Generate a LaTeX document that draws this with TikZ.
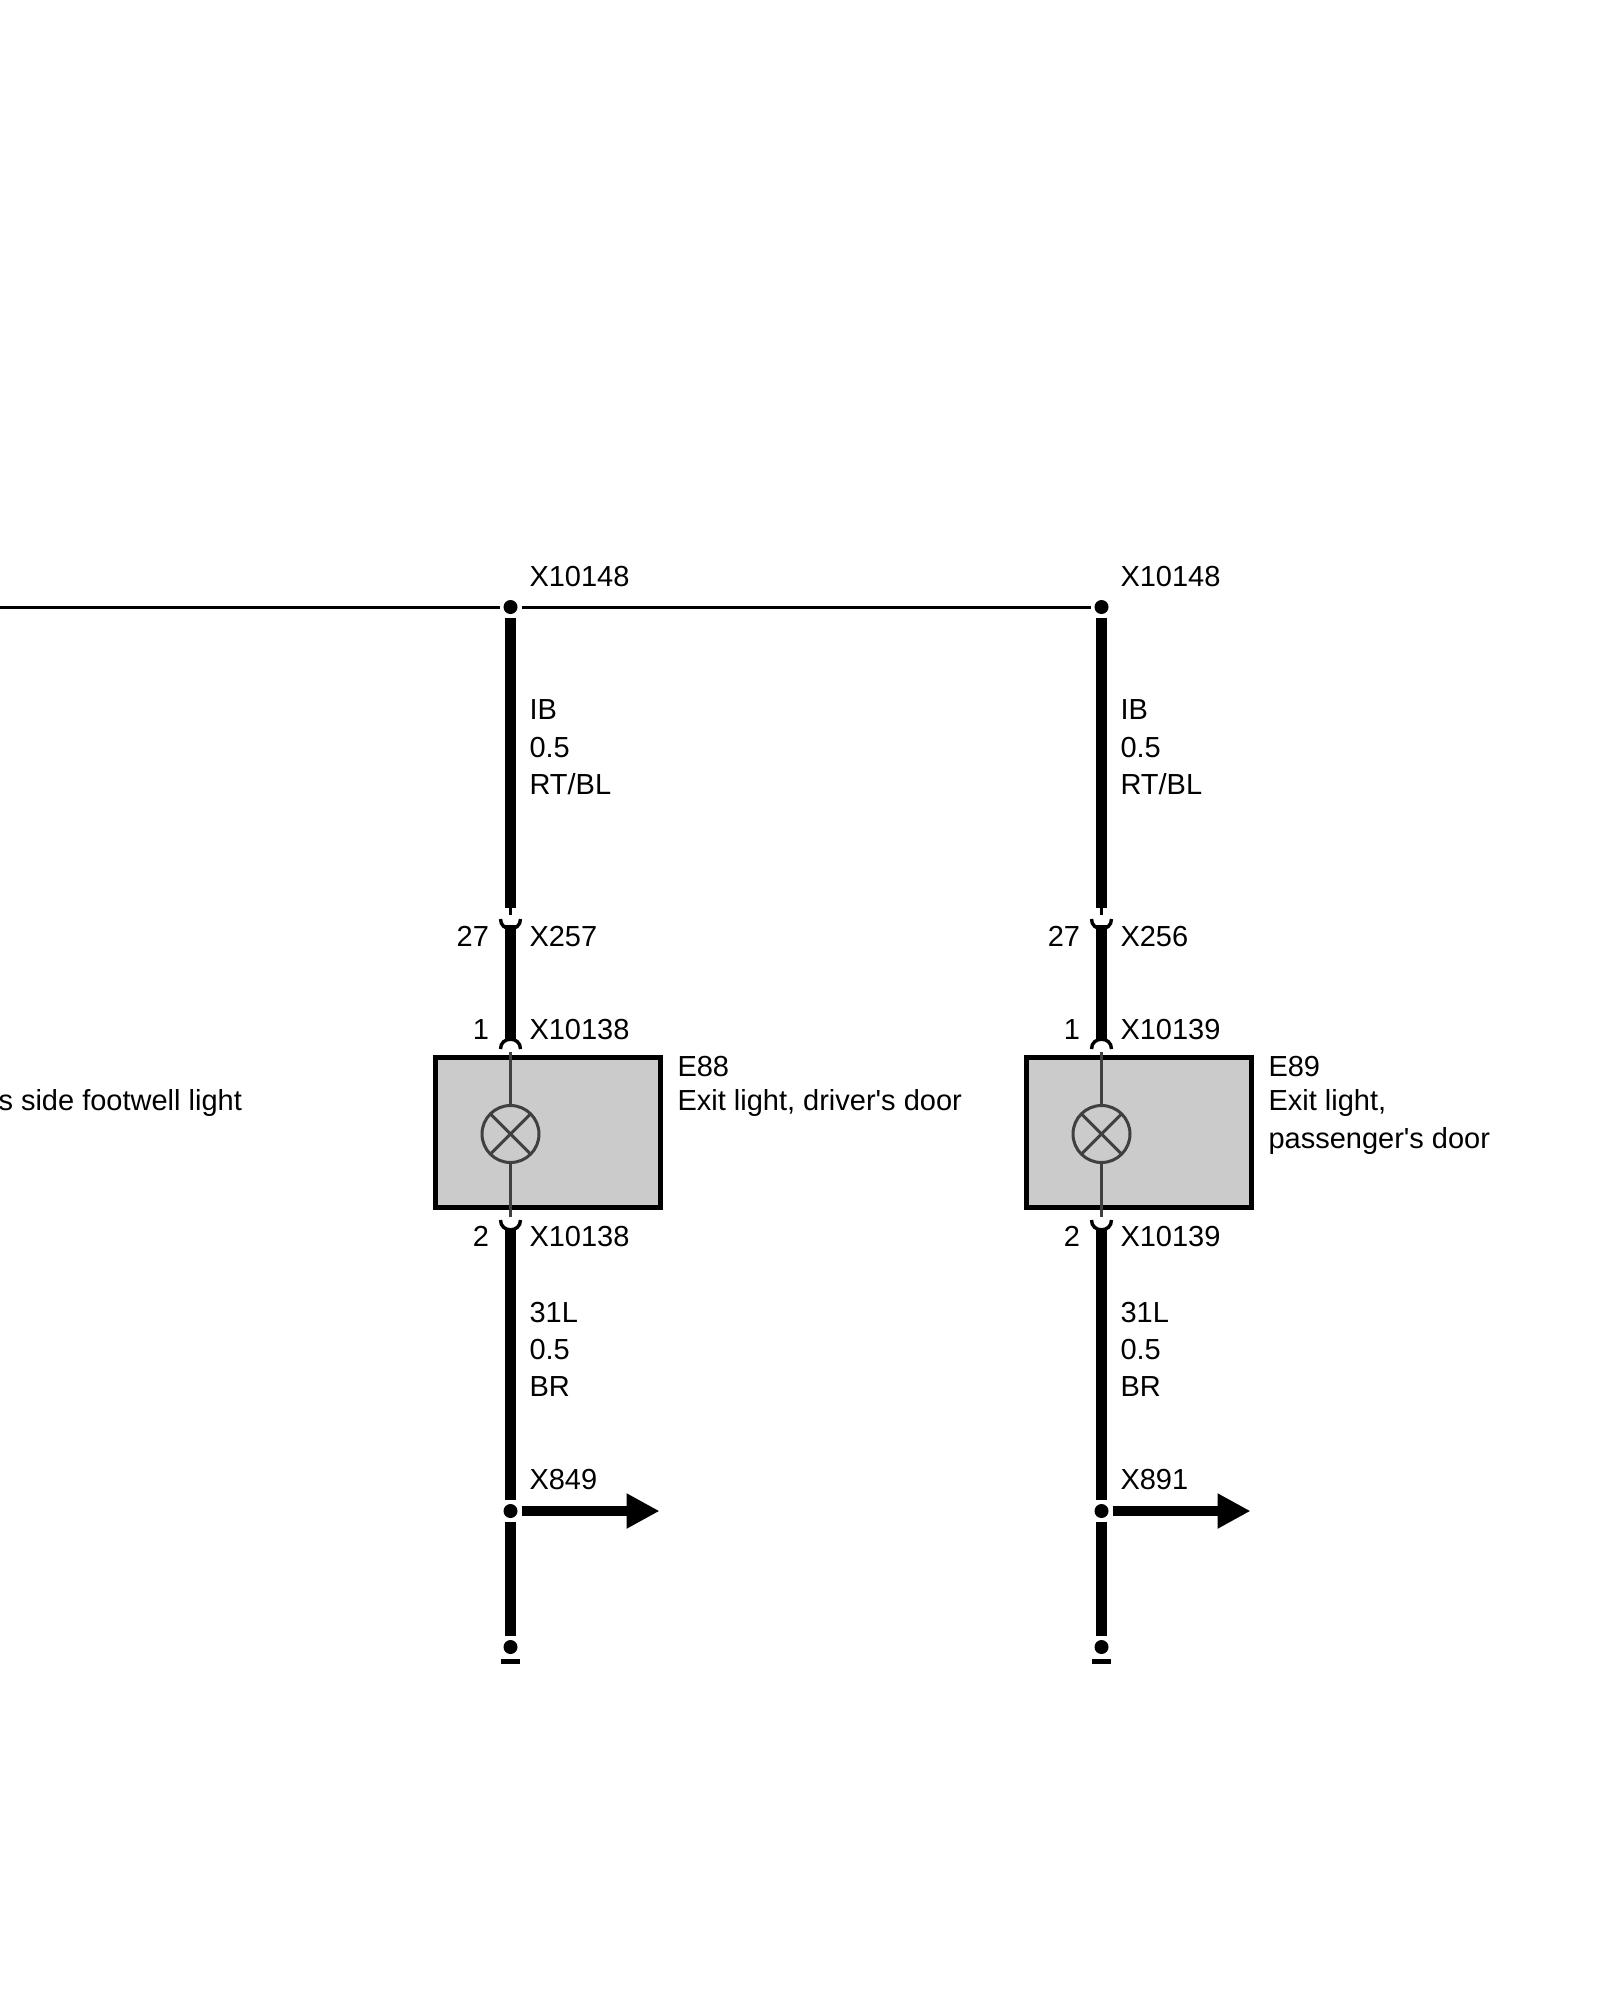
\documentclass[tikz,border=0pt]{standalone}
\usepackage{fontspec}
\setmainfont{Liberation Sans}
\usetikzlibrary{arrows.meta}
\definecolor{boxgray}{HTML}{CBCBCB}
\definecolor{leadgray}{HTML}{404040}
\tikzset{
  every node/.style={inner sep=0pt,outer sep=0pt},
  txt/.style={anchor=base west,font=\fontsize{29}{37.5}\selectfont,align=left},
  txr/.style={anchor=base east,font=\fontsize{29}{37.5}\selectfont},
  wire/.style={line width=10.5pt,black},
  hair/.style={line width=3pt,black},
  lead/.style={line width=3pt,draw=leadgray},
  sock/.style={line width=3.4pt,black},
  dot/.style={circle,fill=black,minimum size=14pt,outer sep=4pt},
  unit/.style={draw=black,fill=boxgray,line width=4.7pt,minimum width=225pt,minimum height=150pt},
  lamp/.style={circle,draw=leadgray,line width=3pt,minimum size=57pt},
  ref/.style={line width=10.7pt,-{Triangle[length=33pt,width=33pt]}}
}
\newcommand{\wirecolumn}[6]{%
  % #1 prefix, #2 x, #3 upper connector, #4 module connector, #5 code and description nodes, #6 reference connector
  \begin{scope}[shift={(#2,0)},name prefix=#1-]
    \node[dot] (top) at (0,607) {};
    \coordinate (a1) at (0,908);
    \coordinate (a2) at (0,915);
    \coordinate (u1) at (0,925);
    \coordinate (n1) at (0,1040);
    \coordinate (u2) at (0,1228);
    \node[dot] (mid) at (0,1511) {};
    \node[dot] (end) at (0,1647) {};
    \node[unit] (box) at (37.5,1132.5) {};
    \node[lamp] (lamp) at (0,1134) {};
    \coordinate (l1) at (0,1052);
    \coordinate (l2) at (0,1217);
    \coordinate (tip) at (149,1511);
    \draw[wire] (top) -- (a1);
    \draw[hair] (a1) -- (a2);
    \draw[wire] (u1) -- (n1);
    \draw[wire] (u2) -- (mid);
    \draw[wire] (mid) -- (end);
    \draw[ref] (mid) -- (tip);
    \draw[lead] (l1) -- (lamp.north);
    \draw[lead] (lamp.south) -- (l2);
    \draw[lead] (lamp.45) -- (lamp.225);
    \draw[lead] (lamp.135) -- (lamp.315);
    \draw[sock] (-10,919) .. controls (-10,932) and (10,932) .. (10,919);
    \draw[sock] (-10,1049) .. controls (-10,1036) and (10,1036) .. (10,1049);
    \draw[sock] (-10,1220) .. controls (-10,1233) and (10,1233) .. (10,1220);
    \fill[black] (-9.5,1659) rectangle (9.5,1664);
    \node[txt] at (19,586.5) {X10148};
    \node[txt] at (19,719.5) {IB};
    \node[txt] at (19,757.5) {0.5};
    \node[txt] at (19,794.5) {RT/BL};
    \node[txr] at (-21.5,946) {27};
    \node[txt] at (19,946) {#3};
    \node[txr] at (-21.5,1039) {1};
    \node[txt] at (19,1039) {#4};
    #5
    \node[txr] at (-21.5,1246) {2};
    \node[txt] at (19,1246) {#4};
    \node[txt] at (19,1322) {31L};
    \node[txt] at (19,1359) {0.5};
    \node[txt] at (19,1396.5) {BR};
    \node[txt] at (19,1489) {#6};
  \end{scope}%
}
\begin{document}
\begin{tikzpicture}[x=1pt,y=-1pt]
  \useasboundingbox (0,0) rectangle (1600,2000);
  \wirecolumn{l}{510.5}{X257}{X10138}{\node[txt] at (167,1076) {E88};\node[txt] at (167,1110) {Exit light, driver\textquotesingle s door};}{X849}
  \wirecolumn{r}{1101.5}{X256}{X10139}{\node[txt] at (167,1076) {E89};\node[txt] at (167,1110) {Exit light,};\node[txt] at (167,1148) {passenger\textquotesingle s door};}{X891}
  \coordinate (west) at (0,607);
  \draw[line width=3pt] (west) -- (l-top);
  \draw[line width=3pt] (l-top) -- (r-top);
  \node[txt] at (-1.5,1110) {s side footwell light};
\end{tikzpicture}
\end{document}
